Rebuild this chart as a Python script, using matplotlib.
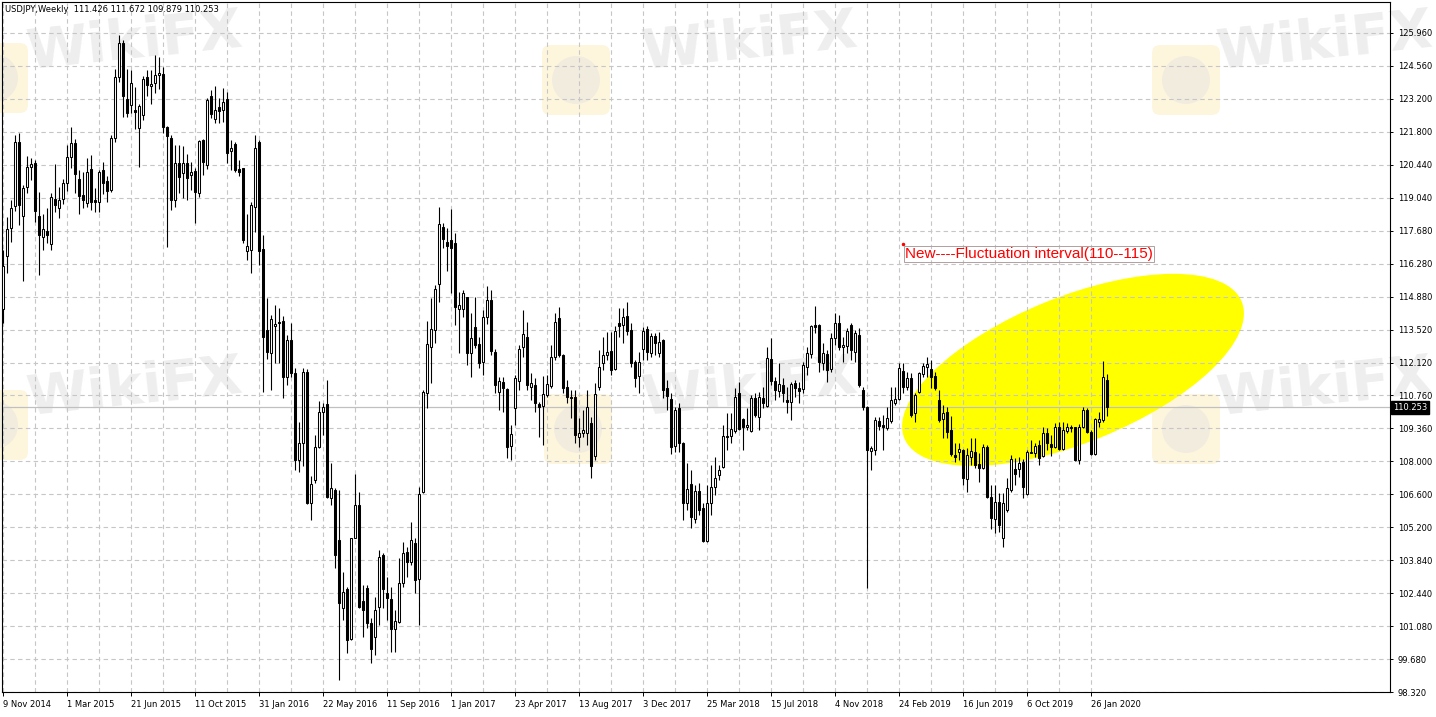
import numpy as np
import pandas as pd
import matplotlib
matplotlib.use("Agg")
import matplotlib.pyplot as plt
from matplotlib.patches import Ellipse, FancyBboxPatch, Circle
from matplotlib.transforms import ScaledTranslation, blended_transform_factory

W, H, DPI = 1436, 717, 100

start_date = "2014-11-09"
header = "USDJPY,Weekly  111.426 111.672 109.879 110.253"
last_price = 110.253
last_label = "110.253"
note = "New----Fluctuation interval(110--115)"
watermark = "WikiFX"

ytick_labels = ["98.320", "99.680", "101.080", "102.440", "103.840", "105.200",
                "106.600", "108.000", "109.360", "110.760", "112.120", "113.520",
                "114.880", "116.280", "117.680", "119.040", "120.440", "121.800",
                "123.200", "124.560", "125.960"]

opens = [114.4,116.6,117.8,118.7,121.4,118.3,119.5,120.35,120.5,118.3,117.4,117.65,117.1,119.0,118.6,119.0,
 119.65,120.77,121.36,119.85,119.16,118.85,120.24,118.95,118.88,120.2,119.75,119.37,121.54,124.13,125.53,123.2,
 122.94,122.72,121.96,122.52,124.1,123.74,123.88,124.2,124.24,122.0,121.54,118.96,120.52,120.1,120.52,120.0,
 120.19,119.26,121.47,120.42,123.3,122.34,122.84,122.73,123.18,121.0,121.3,120.26,120.28,116.8,116.86,118.68,
 121.4,116.88,113.5,112.55,113.67,113.85,113.88,111.52,
 113.08,111.7,108.05,108.75,111.75,106.26,107.21,108.61,110.08,110.4,106.44,106.79,104.7,101.83,102.63,100.53,
 104.8,106.16,102.15,102.67,101.23,100.64,101.87,104.07,
 102.49,102.21,100.95,101.27,102.91,104.2,103.79,104.55,103.05,106.72,110.88,112.81,113.5,115.43,117.81,117.21,
 117.28,117.14,114.37,114.37,114.87,112.55,113.64,112.92,
 112.17,114.06,114.76,112.6,110.92,111.34,111.02,108.64,110.22,111.38,112.8,113.22,111.13,111.2,110.4,110.31,
 110.78,111.16,112.38,113.99,112.45,111.1,110.7,
 110.68,109.03,109.2,109.2,109.62,108.22,111.1,112.13,112.45,112.64,111.85,113.81,113.71,114.09,113.5,112.17,
 111.57,112.7,113.53,112.55,113.25,112.55,113.08,111.06,
 110.6,108.64,110.22,108.78,106.26,107.04,105.56,106.75,106.02,104.67,106.23,106.9,107.42,107.74,109.06,109.06,
 109.28,110.85,109.76,109.42,109.28,110.64,109.84,110.64,
 110.32,112.27,111.38,110.96,111.2,110.57,110.5,111.27,111.06,111.01,111.96,112.5,113.71,113.71,112.1,112.5,
 111.85,113.15,113.81,112.78,112.83,113.71,112.59,113.29,
 110.99,110.26,108.44,108.47,109.7,109.52,109.38,109.7,110.46,110.6,111.8,111.13,111.48,110.01,110.92,111.66,
 111.97,111.85,111.57,110.57,109.76,110.08,109.31,
 108.26,108.4,108.47,107.24,108.16,108.4,107.88,107.7,108.61,106.51,105.56,106.3,104.77,105.95,106.79,107.66,
 107.66,107.98,106.62,108.36,108.36,108.68,108.22,109.2,
 108.72,108.61,109.42,108.5,109.28,109.42,109.42,108.05,109.45,110.15,109.24,108.3,109.66,109.73,111.426]

highs = [116.85,118.25,118.95,121.7,121.75,119.6,120.8,120.7,120.65,119.3,118.35,118.6,119.25,120.47,119.5,119.85,
 121.25,122.0,121.5,120.2,120.15,120.7,120.85,119.45,120.2,120.55,119.95,121.68,124.45,125.88,125.67,124.45,
 124.4,123.7,123.0,124.16,124.4,124.4,125.04,124.97,124.55,122.05,121.68,121.26,121.26,121.22,120.9,120.56,
 120.28,121.47,121.5,123.22,123.57,123.74,123.22,123.64,123.5,121.47,121.4,120.63,120.3,118.37,118.88,121.68,
 121.47,117.49,114.83,114.13,114.55,114.41,114.09,113.29,
 113.8,111.9,109.66,111.9,111.88,107.4,109.1,110.54,110.43,111.42,107.91,106.86,106.79,103.37,102.74,104.8,
 107.46,106.72,102.81,102.81,101.41,102.3,104.27,104.14,
 103.16,102.74,101.76,103.95,104.63,104.42,105.47,104.8,106.93,110.99,113.9,114.83,115.39,118.68,117.98,117.77,
 118.56,117.56,115.11,115.18,114.9,114.2,114.9,113.2,
 114.34,115.35,115.2,112.7,111.55,111.55,111.06,109.52,111.62,112.87,114.34,113.85,111.69,111.48,110.5,111.57,
 111.62,112.87,114.2,114.48,112.5,111.41,111.0,
 110.99,109.8,110.15,110.99,109.87,111.27,112.66,113.22,113.43,113.43,113.67,114.41,114.41,114.69,113.78,112.24,
 112.6,113.64,113.67,113.36,113.36,113.43,113.12,111.41,
 110.85,110.29,110.45,108.82,107.91,107.63,107.0,107.07,106.23,107.0,107.84,108.16,107.84,109.52,110.01,110.01,
 111.06,111.34,109.8,110.22,110.78,110.85,110.92,111.1,
 112.78,113.15,111.55,112.1,111.48,111.1,111.34,111.41,111.34,112.17,112.8,113.71,114.51,113.75,112.94,112.66,
 113.36,114.2,114.13,113.22,113.57,113.81,113.5,113.6,
 111.13,110.3,108.64,109.87,109.87,109.94,110.29,111.13,111.13,112.1,112.1,111.76,111.69,110.85,111.76,112.1,
 112.38,112.24,111.76,110.99,110.36,110.29,109.9,
 108.75,108.75,108.5,108.54,108.96,108.96,108.33,108.72,108.7,107.0,107.0,106.65,106.65,107.28,108.26,108.12,
 108.16,108.08,108.47,108.89,108.75,108.89,109.45,109.38,
 109.1,109.62,109.66,109.66,109.59,109.52,109.45,109.56,110.26,110.22,109.31,109.8,110.08,112.22,111.672]

lows = [113.8,115.9,117.2,118.5,117.9,115.55,119.25,119.8,118.05,115.8,116.85,117.15,116.85,118.45,118.2,118.8,
 119.35,120.3,119.25,118.35,118.6,118.65,118.55,118.45,118.45,119.2,118.88,119.3,121.4,123.92,122.45,122.45,
 122.6,121.92,120.35,122.3,123.3,123.0,123.43,123.6,121.75,117.0,118.54,118.68,119.24,119.03,118.96,119.37,
 118.0,119.1,120.0,120.24,122.38,122.2,122.2,122.24,120.52,120.21,120.14,119.96,117.14,116.44,115.9,117.63,
 116.23,110.92,112.3,110.98,112.1,112.1,110.64,111.2,
 111.55,107.63,107.56,107.8,106.2,105.53,107.07,108.54,109.1,106.45,106.16,103.51,98.82,101.34,99.94,100.5,
 104.77,101.83,100.64,100.99,99.52,99.87,101.13,101.83,
 101.34,100.01,100.01,101.2,102.74,103.16,103.65,102.46,101.13,106.65,110.22,111.3,112.95,114.69,116.93,115.99,
 115.04,113.71,112.52,114.06,112.04,111.55,112.73,111.9,
 111.62,113.75,112.46,110.85,110.15,110.08,108.12,108.05,109.52,110.99,112.38,110.99,110.57,110.08,109.03,108.68,
 110.71,111.06,112.24,112.38,110.85,110.43,109.8,
 108.75,108.61,109.03,108.68,107.28,108.05,110.99,111.83,112.24,111.62,111.83,113.22,112.94,113.29,111.97,111.13,
 110.85,112.24,112.24,112.38,112.45,112.38,110.64,110.15,
 108.3,108.4,108.4,105.53,105.95,105.18,105.39,105.74,104.62,104.62,105.74,106.58,107.21,107.7,108.47,108.75,
 109.17,109.31,108.47,109.31,109.24,109.87,109.31,110.22,
 110.29,111.2,110.57,110.71,110.5,110.01,109.73,110.71,110.43,110.85,111.62,112.31,113.36,111.76,111.83,111.34,
 111.76,112.87,112.66,112.17,112.52,112.24,112.17,111.1,
 110.15,102.7,107.63,108.26,109.31,108.47,109.31,109.59,110.36,110.57,110.85,110.99,109.87,109.66,110.85,111.52,
 111.55,111.06,110.99,109.66,108.96,108.96,108.2,
 107.98,108.05,107.0,106.72,107.84,107.7,107.14,107.66,106.44,105.14,105.0,105.05,104.39,105.88,106.72,107.0,
 107.35,106.44,106.58,108.33,108.19,107.84,108.16,108.47,
 108.22,108.54,108.47,108.47,109.17,109.24,108.02,107.9,109.38,109.17,108.26,108.26,109.45,109.66,109.879]

closes = [116.2,117.75,118.6,121.4,118.75,119.45,120.35,120.47,118.5,117.5,117.72,117.5,119.1,118.75,118.95,119.65,
 120.77,121.36,120.03,119.12,118.95,120.14,118.88,118.88,120.14,119.66,119.33,121.54,124.13,125.55,123.32,122.62,
 123.88,122.65,122.9,124.02,123.78,123.82,124.2,124.3,122.0,121.64,118.96,120.52,119.93,120.52,119.86,120.14,
 119.3,121.44,120.56,123.15,122.55,122.73,122.7,123.08,120.94,121.12,120.21,120.14,117.28,117.03,118.75,121.12,
 116.83,113.22,112.6,113.95,113.76,113.78,111.52,113.08,
 111.7,108.05,108.75,111.75,106.25,107.04,108.61,110.08,110.26,106.49,106.86,104.07,102.07,102.53,100.5,104.77,
 106.16,101.9,101.76,101.23,100.11,101.76,103.99,102.63,
 102.25,100.95,101.31,102.91,104.14,103.79,104.7,103.02,106.62,110.92,112.92,113.53,115.21,117.95,117.31,117.03,
 116.93,114.45,114.55,115.04,112.55,113.15,112.87,112.11,
 114.03,114.76,112.64,111.2,111.38,111.06,108.61,109.14,111.48,112.69,113.34,111.2,111.27,110.43,110.26,110.82,
 111.23,112.36,113.85,112.45,111.06,110.68,110.64,
 109.1,109.2,109.31,110.26,107.8,110.82,111.97,112.45,112.6,111.83,113.48,113.67,114.06,113.48,112.13,111.48,
 112.17,113.48,112.6,113.25,112.94,113.01,110.99,110.74,
 108.58,110.15,108.78,106.23,106.82,105.67,106.76,105.95,104.67,106.23,106.93,107.28,107.63,109.06,109.0,109.34,
 110.71,109.34,109.45,109.52,110.64,109.94,110.71,110.43,
 112.31,111.38,110.99,111.24,110.85,110.5,111.24,111.06,110.96,112.03,112.52,113.67,113.64,112.17,112.55,111.82,
 113.15,113.78,112.8,112.87,113.47,112.66,113.36,111.2,
 110.26,108.47,108.54,109.73,109.48,109.42,109.8,110.57,110.6,111.9,111.13,111.48,109.94,110.78,111.71,111.99,
 112.08,111.52,111.06,109.73,110.01,109.24,108.3,
 108.16,108.5,107.28,108.26,108.44,107.84,107.7,108.61,106.51,105.6,106.3,105.33,106.23,106.86,108.08,107.46,
 107.91,106.9,108.4,108.4,108.64,108.12,109.2,108.75,
 108.58,109.42,108.5,109.31,109.42,109.38,108.05,109.45,110.15,109.24,108.3,109.76,109.76,111.52,110.253]

o = np.array(opens); h = np.array(highs); l = np.array(lows); c = np.array(closes)
n = len(c)
idx = np.arange(n)
dates = pd.date_range(start_date, periods=n, freq="7D")

plt.rcParams['font.family'] = ['DejaVu Sans']
fig = plt.figure(figsize=(W / DPI, H / DPI), dpi=DPI)
fig.patch.set_facecolor('white')

# axes frame in pixel terms
L_px, R_px, T_px, B_px = 2, 1390, 2, 692
ax = fig.add_axes([L_px / W, (H - B_px) / H, (R_px - L_px) / W, (B_px - T_px) / H])
ax.patch.set_alpha(0.0)
ax.set_zorder(1)

# watermarks (figure pixel coords), drawn beneath the axes
def fpx(x, y):
    return x / W, 1 - y / H
for (wx, wy) in [(135, 42), (750, 42), (1325, 42), (135, 388), (750, 388), (1325, 388)]:
    fig.text(*fpx(wx, wy), watermark, fontsize=40, fontweight='bold', color='#eaeaea',
             ha='center', va='center', rotation=6, zorder=0.1, alpha=0.8)
for (lx, ly) in [(576, 80), (1186, 80), (578, 429), (1186, 429), (-6, 78), (-6, 425)]:
    box = FancyBboxPatch(((lx - 34) / DPI, (H - ly - 35) / DPI), 68 / DPI, 70 / DPI,
                         boxstyle="round,pad=0,rounding_size=0.08",
                         transform=fig.dpi_scale_trans, facecolor='#fdf2cc', edgecolor='none',
                         alpha=0.65, zorder=0.1)
    fig.patches.append(box)
    circ = Circle((lx / DPI, (H - ly) / DPI), 0.24, transform=fig.dpi_scale_trans,
                  facecolor='#ece8df', edgecolor='none', alpha=0.7, zorder=0.15)
    fig.patches.append(circ)

# scales
px_per_week = 4.0
x0_px = 3.0
ax.set_xlim((L_px - x0_px) / px_per_week, (R_px - x0_px) / px_per_week)
y_top_val, y_bot_val = 125.96, 98.32
y_top_px, y_bot_px = 33, 692
ppx = (y_top_val - y_bot_val) / (y_bot_px - y_top_px)
ax.set_ylim(y_top_val - (B_px - y_top_px) * ppx, y_top_val + (y_top_px - T_px) * ppx)

# yellow ellipse (size in inches, centre in data coords)
ell = Ellipse((0, 0), 3.64, 1.46, angle=22,
              transform=fig.dpi_scale_trans + ScaledTranslation(267.5, 111.83, ax.transData),
              facecolor='#ffff00', edgecolor='none', zorder=0.3)
ax.add_patch(ell)

# grid
yt = np.linspace(y_bot_val, y_top_val, len(ytick_labels))
ax.set_yticks(yt)
ax.set_yticklabels(ytick_labels)
major_x = idx[::16]
ax.set_xticks(major_x)
ax.set_xticklabels([f"{d.day} {d.strftime('%b %Y')}" for d in dates[::16]], ha='left')
ax.set_xticks(idx[::8], minor=True)
ax.set_axisbelow(True)
grid_kw = dict(color='#c6c6c6', linestyle=(0, (4, 3)), linewidth=0.8)
ax.grid(True, axis='y', which='major', **grid_kw)
ax.grid(True, axis='x', which='both', **grid_kw)

# current price line
ax.axhline(last_price, color='#c0c0c0', linewidth=0.9, zorder=1)

# candles
up = c >= o
body_bot = np.minimum(o, c)
body_h = np.maximum(np.abs(c - o), 0.02)
ax.vlines(idx, l, h, color='black', linewidth=0.8, zorder=3)
ax.bar(idx, body_h, bottom=body_bot, width=0.55,
       color=np.where(up, 'white', 'black'), edgecolor='black', linewidth=0.75, zorder=4)

# axes styling
for s in ax.spines.values():
    s.set_color('black'); s.set_linewidth(0.8)
ax.yaxis.tick_right()
ax.tick_params(axis='y', which='major', direction='out', length=2.5, width=0.7, pad=3,
               labelsize=6, colors='black', left=False)
ax.tick_params(axis='x', which='major', direction='out', length=3, width=0.7, pad=3,
               labelsize=6, colors='black', top=False)
ax.tick_params(axis='x', which='minor', length=0)
for lab in ax.get_yticklabels():
    lab.set_horizontalalignment('left')

# last price tag
tr = blended_transform_factory(ax.transAxes, ax.transData)
ax.text(1.0 + 3 / (R_px - L_px), last_price, last_label, transform=tr, fontsize=6, color='white',
        ha='left', va='center', zorder=10, clip_on=False,
        bbox=dict(boxstyle='square,pad=0.25', facecolor='black', edgecolor='black'))

# annotation
ax.text(225.6, 116.69, note, fontsize=11, color='#ff0000', family=['Liberation Sans', 'DejaVu Sans'],
        ha='left', va='center', zorder=6,
        bbox=dict(boxstyle='square,pad=0.08', facecolor='none', edgecolor='#b0a0a0', linewidth=0.7))
ax.plot([225.0], [117.13], marker='o', markersize=1.5, color='#ff0000', zorder=7)

# header
fig.text(5 / W, 1 - 10 / H, header, fontsize=6, color='black', ha='left', va='center')

fig.savefig("out.png", dpi=DPI, facecolor='white')
